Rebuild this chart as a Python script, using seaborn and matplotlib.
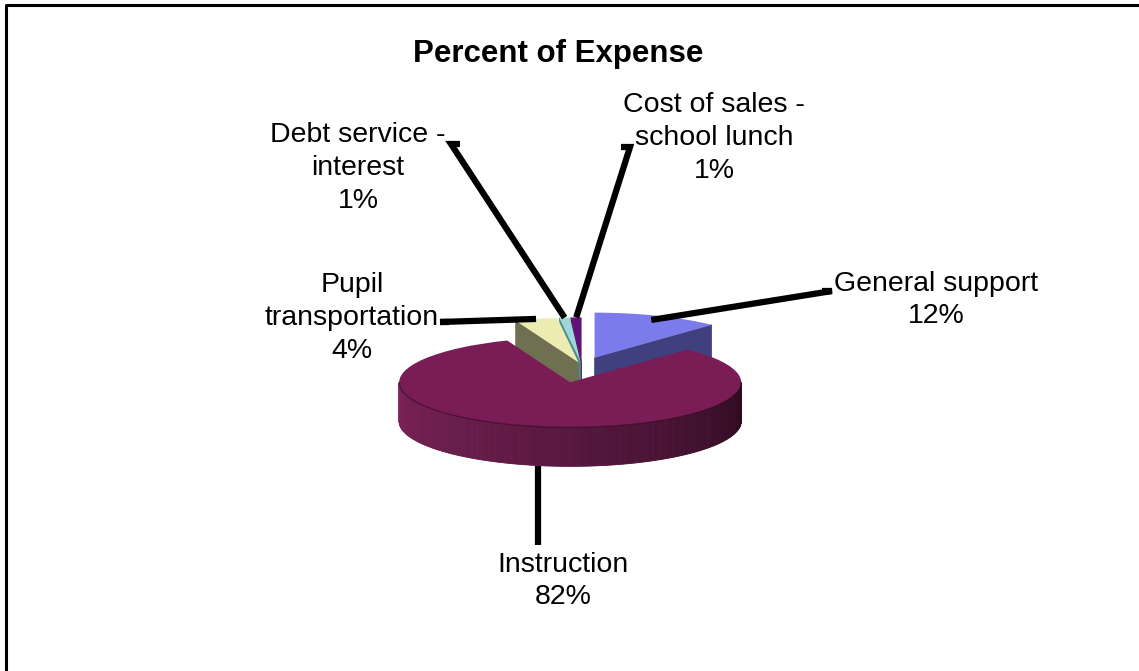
import numpy as np
import matplotlib
matplotlib.use("Agg")
import matplotlib.pyplot as plt
import seaborn as sns
from matplotlib.patches import Polygon
from matplotlib.colors import to_rgb

# ---------------- data ----------------
categories = ["General support", "Instruction", "Pupil transportation",
              "Debt service - interest", "Cost of sales - school lunch"]
label_text = ["General support", "Instruction", "Pupil\ntransportation",
              "Debt service -\ninterest", "Cost of sales -\nschool lunch"]
values = [12, 82, 4, 1, 1]
title = "Percent of Expense"

# ---------------- style ----------------
top_colors = ["#7b7bec", "#7a1c56", "#ececb2", "#9fd6da", "#62107a"]
side_colors = ["#40407e", "#7c2258", "#6f6f52", "#4a8a8c", "#3a0a48"]
side_dark = "#2b0a1f"
explode = [0.2, 0.37, 0.08, 0.08, 0.08]

sns.set_theme(style="white")
plt.rcParams['font.family'] = ['Liberation Sans', 'DejaVu Sans']

W, H = 1139, 671
fig = plt.figure(figsize=(W / 100, H / 100), dpi=100)
fig.patch.set_facecolor("white")
ax = fig.add_axes([0, 0, 1, 1])

# pixel geometry of the pie (layout)
CX, CY, RX, RY, THICK = 582, 366, 171, 45, 39
T = THICK / RY  # thickness in y-data units


def px2d(px, py):
    return (px - CX) / RX, (CY - py) / RY


xlim = (px2d(0, 0)[0], px2d(W, 0)[0])
ylim = (px2d(0, H)[1], px2d(0, 0)[1])

vals = np.array(values, dtype=float)
frac = vals / vals.sum()
starts = np.concatenate([[0], np.cumsum(frac)[:-1]]) * 360.0
ends = np.cumsum(frac) * 360.0
mids = (starts + ends) / 2


def centre(i):
    m = np.radians(mids[i])
    return explode[i] * np.sin(m), explode[i] * np.cos(m)


def pt(i, ang, r=1.0, dz=0.0):
    cx, cy = centre(i)
    a = np.radians(ang)
    return cx + r * np.sin(a), cy + r * np.cos(a) - dz


# top faces through the pie routine
wedges, _ = ax.pie(vals, colors=top_colors, startangle=90, counterclock=False,
                   explode=explode, radius=1.0,
                   wedgeprops=dict(linewidth=0))

# depth order: back first, front last
order = sorted(range(len(vals)), key=lambda i: -np.cos(np.radians(mids[i])))
for rank, i in enumerate(order):
    z = 10 + rank * 4
    # radial faces
    for edge, is_start in ((starts[i], True), (ends[i], False)):
        s = np.sin(np.radians(edge))
        visible = (s < -1e-9) if is_start else (s > 1e-9)
        if visible:
            c0 = pt(i, 0, r=0.0)
            c1 = pt(i, edge)
            poly = [c0, c1, pt(i, edge, dz=T), pt(i, 0, r=0.0, dz=T)]
            ax.add_patch(Polygon(poly, closed=True, facecolor=side_colors[i],
                                 edgecolor=side_colors[i], lw=0.5, zorder=z))
    # outer wall (front half)
    a0, a1 = max(starts[i], 90.0), min(ends[i], 270.0)
    if a1 > a0:
        n = max(4, int((a1 - a0) * 1.5))
        angs = np.linspace(a0, a1, n + 1)
        base = np.array(to_rgb(side_colors[i]))
        dark = np.array(to_rgb(side_dark)) if i == 1 else base * 0.5
        for k in range(n):
            t = ((angs[k] + angs[k + 1]) / 2 - 90.0) / 180.0
            col = dark + (base - dark) * t ** 0.9
            quad = [pt(i, angs[k]), pt(i, angs[k + 1]),
                    pt(i, angs[k + 1], dz=T), pt(i, angs[k], dz=T)]
            ax.add_patch(Polygon(quad, closed=True, facecolor=col,
                                 edgecolor=col, lw=0.6, zorder=z + 1))
        # subtle rim line between top face and wall
        rim = np.array([pt(i, a) for a in angs])
        ax.plot(rim[:, 0], rim[:, 1], color=side_dark, lw=0.9, alpha=0.6,
                zorder=z + 3)
    wedges[i].set_zorder(z + 2)

ax.set_aspect("auto")
ax.set_xlim(*xlim)
ax.set_ylim(*ylim)
ax.axis("off")

# ---------------- labels & leader lines ----------------
label_pos = [(936, 300), (563, 581), (352, 318), (358, 168), (714, 138)]
label_hook = [(832, 291), None, (440, 322), (451, 144), (630, 147)]
hook_len = [-10, 0, 9, 9, -9]
anchor_r = [0.9, 1.0, 1.0, 1.0, 1.0]

for i in range(len(vals)):
    lx, ly = label_pos[i]
    fig.text(lx / W, 1 - ly / H, f"{label_text[i]}\n{values[i]:.0f}%",
             ha="center", va="center", fontsize=20.5, color="black",
             linespacing=1.34)
    if i == 1:
        ax_, ay_ = pt(i, mids[i], dz=T)
        tx, ty = px2d(ax_ * RX + CX, 545)
        ax.plot([ax_, ax_], [ay_, ty], color="black", lw=4.5,
                solid_capstyle="butt", zorder=50)
        continue
    ax_, ay_ = pt(i, mids[i], r=anchor_r[i])
    hx, hy = label_hook[i]
    h1 = px2d(hx, hy)
    h2 = px2d(hx + hook_len[i], hy)
    ax.plot([ax_, h1[0], h2[0]], [ay_, h1[1], h2[1]], color="black", lw=4.5,
            solid_joinstyle="miter", solid_capstyle="butt", zorder=50)

fig.text(558 / W, 1 - 62 / H, title, ha="center", va="baseline",
         fontsize=22.5, fontweight="bold", color="black")

# chart frame (left & top edges visible)
fig.add_artist(plt.Line2D([6 / W, 6 / W, 1.0], [0.0, 1 - 5 / H, 1 - 5 / H],
                          transform=fig.transFigure, color="black", lw=2.2))

fig.savefig("out.png", dpi=100, facecolor="white")
